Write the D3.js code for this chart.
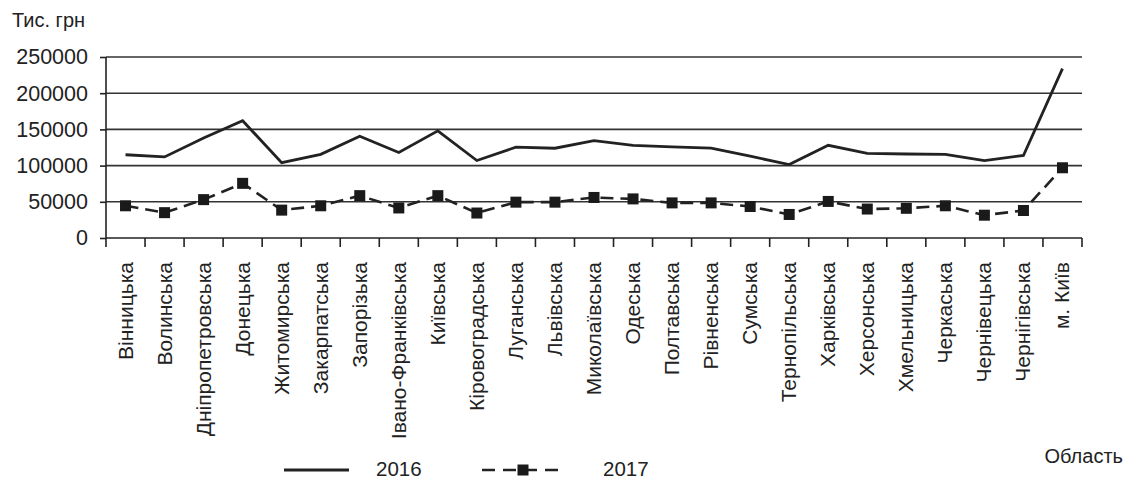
<!DOCTYPE html>
<html><head><meta charset="utf-8">
<script src="https://cdn.jsdelivr.net/npm/d3@7"></script>
<style>
html,body{margin:0;padding:0;background:#fff;}
text{font-family:"Liberation Sans",Arial,sans-serif;fill:#222;}
</style></head>
<body><svg id="c" width="1126" height="479"></svg>
<script>
const categories = ["Вінницька","Волинська","Дніпропетровська","Донецька","Житомирська","Закарпатська","Запорізька","Івано-Франківська","Київська","Кіровоградська","Луганська","Львівська","Миколаївська","Одеська","Полтавська","Рівненська","Сумська","Тернопільська","Харківська","Херсонська","Хмельницька","Черкаська","Чернівецька","Чернігівська","м. Київ"];
const values2016 = [115000,112000,138000,162000,104000,115500,140500,118000,148000,107000,125500,124000,134500,128000,126000,124000,113000,101500,128000,117000,116000,115500,107000,114000,234000];
const values2017 = [44500,35000,53000,75500,38500,44500,58500,41500,58500,34500,49500,49500,56000,54000,48500,48500,43500,32500,50500,40000,41000,44500,31500,38000,97000];
const yTicks = [0,50000,100000,150000,200000,250000];
const seriesNames = ["2016","2017"];
const yUnit = "Тис. грн";
const xTitle = "Область";

(function(){
const svg = d3.select("#c");
const pL = 106, pR = 1082, pT = 57, pB = 238;
const x = d3.scaleBand().domain(categories).range([pL, pR]);
const y = d3.scaleLinear().domain([0, 250000]).range([pB, pT]);
const ink = "#222";

// gridlines
svg.append("g").selectAll("line").data(yTicks.filter(d => d > 0)).join("line")
  .attr("x1", pL).attr("x2", pR)
  .attr("y1", d => y(d)).attr("y2", d => y(d))
  .attr("stroke", "#333").attr("stroke-width", 1.6);

// y axis
const ya = svg.append("g").attr("transform", `translate(${pL},0)`)
  .call(d3.axisLeft(y).tickValues(yTicks).tickSize(6).tickPadding(12).tickFormat(d3.format("d")));
ya.select(".domain").attr("stroke", ink).attr("stroke-width", 1.6).attr("d", `M0,${pT}V${pB}`);
ya.selectAll(".tick line").attr("stroke", ink).attr("stroke-width", 1.6);
ya.selectAll(".tick text").attr("font-size", 21.5).attr("font-family", "Liberation Sans, Arial, sans-serif").attr("fill", ink);

// x axis with ticks at band boundaries
svg.append("line").attr("x1", pL).attr("x2", pR).attr("y1", pB).attr("y2", pB)
  .attr("stroke", ink).attr("stroke-width", 1.6);
const bounds = categories.map(c => x(c)).concat([pR]);
svg.append("g").selectAll("line").data(bounds).join("line")
  .attr("x1", d => d).attr("x2", d => d).attr("y1", pB).attr("y2", pB + 9)
  .attr("stroke", ink).attr("stroke-width", 1.6);

// category labels
svg.append("g").selectAll("text").data(categories).join("text")
  .attr("transform", d => `translate(${x(d) + x.bandwidth()/2 + 7},${pB + 24}) rotate(-90)`)
  .attr("text-anchor", "end").attr("font-size", 21).text(d => d);

// lines
const cx = c => x(c) + x.bandwidth()/2;
const line = d3.line().x((d,i) => cx(categories[i])).y(d => y(d));
svg.append("path").datum(values2016).attr("d", line)
  .attr("fill", "none").attr("stroke", ink).attr("stroke-width", 2.8).attr("stroke-linejoin", "miter");
svg.append("path").datum(values2017).attr("d", line)
  .attr("fill", "none").attr("stroke", ink).attr("stroke-width", 2.6).attr("stroke-dasharray", "13,7");
const ms = 11;
svg.append("g").selectAll("rect").data(values2017).join("rect")
  .attr("x", (d,i) => cx(categories[i]) - ms/2).attr("y", d => y(d) - ms/2)
  .attr("width", ms).attr("height", ms).attr("fill", "#1a1a1a");

// titles
svg.append("text").attr("x", 12).attr("y", 27).attr("font-size", 20).text(yUnit);
svg.append("text").attr("x", 1123).attr("y", 463).attr("text-anchor", "end").attr("font-size", 20).text(xTitle);

// legend
const lg = svg.append("g");
lg.append("line").attr("x1", 284).attr("x2", 349).attr("y1", 470).attr("y2", 470).attr("stroke", ink).attr("stroke-width", 2.8);
lg.append("text").attr("x", 376).attr("y", 476).attr("font-size", 20.5).text(seriesNames[0]);
lg.append("line").attr("x1", 482).attr("x2", 560).attr("y1", 470).attr("y2", 470).attr("stroke", ink).attr("stroke-width", 2.6).attr("stroke-dasharray", "13,8");
lg.append("rect").attr("x", 523 - ms/2).attr("y", 470 - ms/2).attr("width", ms).attr("height", ms).attr("fill", "#1a1a1a");
lg.append("text").attr("x", 603).attr("y", 476).attr("font-size", 20.5).text(seriesNames[1]);
})();
</script></body></html>
